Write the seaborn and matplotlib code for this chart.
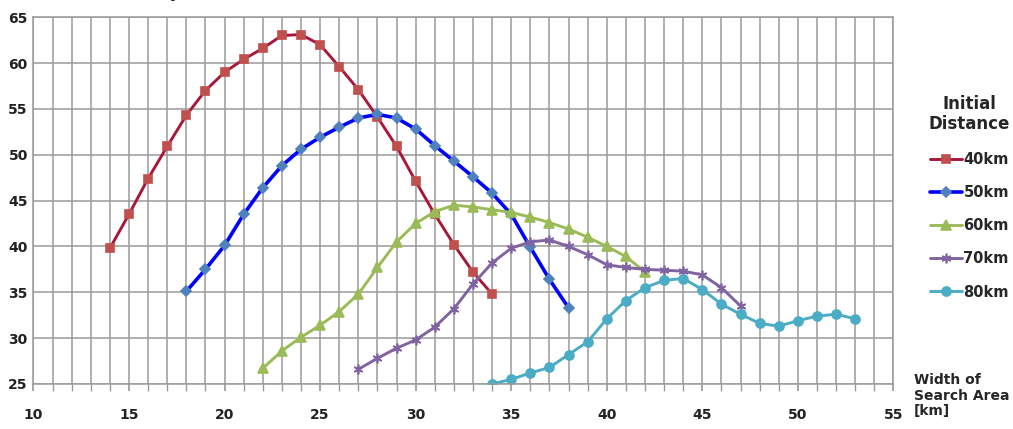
import numpy as np
import pandas as pd
import seaborn as sns
import matplotlib.pyplot as plt

# values
x40 = list(range(14, 35))
y40 = [39.8, 43.5, 47.4, 50.9, 54.3, 57.0, 59.0, 60.4, 61.6, 63.0, 63.1,
       62.0, 59.6, 57.1, 54.1, 50.9, 47.1, 43.5, 40.2, 37.2, 34.8]
x50 = list(range(18, 39))
y50 = [35.1, 37.5, 40.1, 43.5, 46.4, 48.8, 50.6, 51.9, 53.0, 54.0, 54.4,
       54.0, 52.8, 51.0, 49.3, 47.6, 45.8, 43.5, 39.9, 36.4, 33.3]
x60 = list(range(22, 43))
y60 = [26.7, 28.6, 30.1, 31.4, 32.9, 34.8, 37.7, 40.5, 42.5, 43.8, 44.5,
       44.3, 44.0, 43.7, 43.2, 42.6, 41.9, 41.0, 40.0, 38.9, 37.2]
x70 = list(range(27, 48))
y70 = [26.6, 27.8, 28.9, 29.8, 31.2, 33.2, 35.9, 38.2, 39.8, 40.5, 40.7,
       40.0, 39.1, 38.0, 37.7, 37.5, 37.4, 37.3, 36.9, 35.5, 33.5]
x80 = list(range(34, 54))
y80 = [25.0, 25.5, 26.2, 26.8, 28.2, 29.6, 32.1, 34.1, 35.5, 36.3, 36.5,
       35.3, 33.7, 32.6, 31.6, 31.3, 31.9, 32.4, 32.6, 32.1]
labels = ['40km', '50km', '60km', '70km', '80km']

series = [(x40, y40), (x50, y50), (x60, y60), (x70, y70), (x80, y80)]
line_cols = ['#A8173A', '#0000FF', '#9BBB59', '#8064A2', '#4BACC6']
mark_cols = ['#C0504D', '#4F81BD', '#9BBB59', '#8064A2', '#4BACC6']
markers = ['s', 'D', '^', (6, 2, 0), 'o']
msizes = [6, 5.5, 7, 7, 6.5]
widths = [2.1, 2.6, 2.1, 2.1, 2.1]

sns.set_theme(style='white')
plt.rcParams['font.family'] = ['DejaVu Sans']

fig = plt.figure(figsize=(10.13, 4.29), dpi=100)
ax = fig.add_axes([0.033, 0.105, 0.849, 0.855])

for (xs, ys), lab, lc, mc, mk, ms, lw in zip(series, labels, line_cols, mark_cols, markers, msizes, widths):
    df = pd.DataFrame({'w': xs, 'p': ys})
    sns.lineplot(data=df, x='w', y='p', ax=ax, color=lc, lw=lw, marker=mk,
                 markersize=ms, markerfacecolor=mc, markeredgecolor=mc,
                 markeredgewidth=1.2, label=lab)

ax.set_xlim(10, 55)
ax.set_ylim(25, 65)
ax.set_xticks(np.arange(10, 56, 5))
ax.set_xticks(np.arange(10, 56, 1), minor=True)
ax.set_yticks(np.arange(25, 66, 5))
ax.grid(True, which='both', axis='x', color='#9a9a9a', lw=1.1)
ax.grid(True, which='major', axis='y', color='#9a9a9a', lw=1.1)
ax.tick_params(axis='x', which='both', length=5, color='#9a9a9a', bottom=True, pad=12)
ax.tick_params(axis='y', length=0, pad=4)
for lbl in ax.get_xticklabels() + ax.get_yticklabels():
    lbl.set_fontweight('bold')
    lbl.set_fontsize(10)
    lbl.set_color('#222222')
for s in ax.spines.values():
    s.set_color('#9a9a9a')
    s.set_linewidth(1.1)
ax.set_xlabel('')
ax.set_ylabel('')

ax.get_legend().remove()
h, l = ax.get_legend_handles_labels()
leg = fig.legend(h, l, title='Initial\nDistance', loc='upper center',
                 bbox_to_anchor=(0.957, 0.81), frameon=False, handlelength=2.2,
                 handletextpad=0.1, labelspacing=1.25,
                 prop={'weight': 'bold', 'size': 10.5})
leg.get_title().set_fontweight('bold')
leg.get_title().set_fontsize(12)
leg.get_title().set_multialignment('center')

fig.text(0.902, 0.025, 'Width of\nSearch Area\n[km]', fontsize=10,
         fontweight='bold', ha='left', va='bottom', linespacing=1.15)
fig.text(0.215, 1.006, 'Detection Probability [%]', fontsize=12,
         fontweight='bold', ha='right', va='baseline')

fig.savefig('out.png', dpi=100)
